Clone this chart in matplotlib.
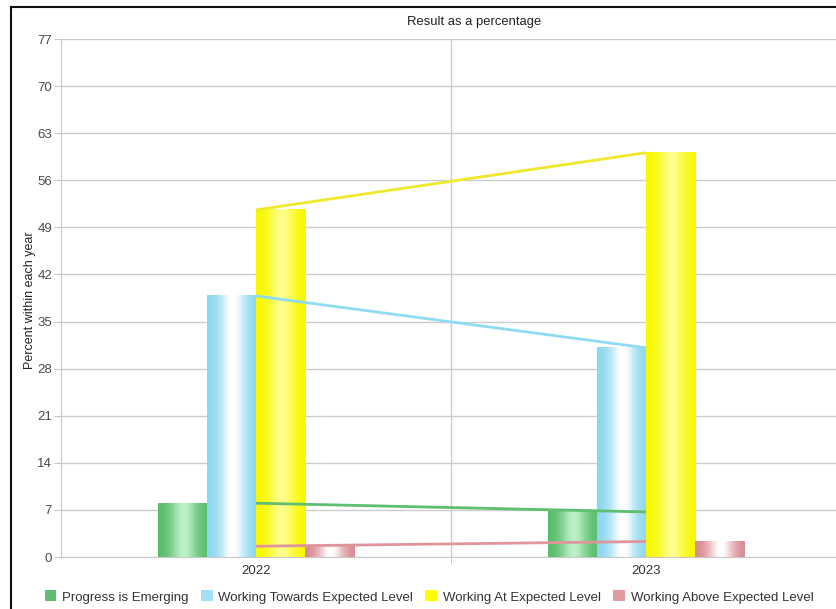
import numpy as np
import matplotlib
matplotlib.use("Agg")
import matplotlib.pyplot as plt
from matplotlib.patches import Patch
from matplotlib.lines import Line2D
from matplotlib.colors import to_rgb

plt.rcParams['font.family'] = ['Liberation Sans', 'DejaVu Sans']

years = ['2022', '2023']
series = ['Progress is Emerging', 'Working Towards Expected Level',
          'Working At Expected Level', 'Working Above Expected Level']
emerging = [8.0, 6.7]
towards = [38.8, 31.1]
at_level = [51.6, 60.1]
above = [1.6, 2.3]
values = [emerging, towards, at_level, above]

# edge shade, highlight shade, line colour
edge_cols = ['#58bc6b', '#8ad7ee', '#f8f800', '#d88a92']
high_cols = ['#bdf0c9', '#ffffff', '#ffff8c', '#ffffff']
line_cols = ['#5dbf6f', '#8fdcf2', '#eee92c', '#df959b']
legend_cols = ['#5dbd72', '#a3def2', '#ffff00', '#e09aa0']

W, H = 836, 609
fig = plt.figure(figsize=(W / 100, H / 100), dpi=100)
ax = fig.add_axes([61 / W, (H - 557) / H, 780 / W, 518 / H])

bw = 0.126
x = np.arange(len(years))
t = np.linspace(0, 1, 96)
shade = np.exp(-((t - 0.52) / 0.26) ** 2)

for i, vals in enumerate(values):
    e = np.array(to_rgb(edge_cols[i]))
    h = np.array(to_rgb(high_cols[i]))
    grad = (e[None, :] * (1 - shade[:, None]) + h[None, :] * shade[:, None])
    grad = np.repeat(grad[None, :, :], 2, axis=0)
    for j, v in enumerate(vals):
        x0 = x[j] + (i - 2) * bw
        ax.imshow(grad, extent=(x0, x0 + bw, 0, v), aspect='auto',
                  interpolation='nearest', zorder=2)

for i, vals in enumerate(values):
    ax.plot(x, vals, color=line_cols[i], lw=2.0, zorder=3,
            solid_capstyle='butt')

ax.set_xlim(-0.5, 1.5)
ax.set_ylim(0, 77)
ax.set_yticks(np.arange(0, 78, 7))
ax.set_xticks(x)
ax.set_xticklabels(years)
ax.set_xticks([0.5], minor=True)
ax.tick_params(axis='x', which='major', length=0, pad=6, labelsize=9.5, labelcolor='#333333')
ax.tick_params(axis='x', which='minor', length=5, color='#c8c8c8')
ax.tick_params(axis='y', length=5, color='#c8c8c8', labelsize=9.5, labelcolor='#4a4a4a', pad=1.5)
ax.set_axisbelow(True)
ax.grid(axis='y', color='#cccccc', lw=1)
ax.axvline(0.5, color='#cccccc', lw=1, zorder=0)
for s in ['top', 'right']:
    ax.spines[s].set_visible(False)
ax.spines['left'].set_color('#c8c8c8')
ax.spines['bottom'].set_color('#c8c8c8')

fig.text(474 / W, 1 - 22 / H, 'Result as a percentage', ha='center', va='center',
         fontsize=9.4, color='#222222')
fig.text(30 / W, 1 - 300 / H, 'Percent within each year', rotation=90,
         ha='center', va='center', fontsize=9, color='#222222')

handles = [Patch(facecolor=c, edgecolor='none') for c in legend_cols]
fig.legend(handles, series, loc='center', bbox_to_anchor=(429 / W, 1 - 597 / H),
           ncol=4, frameon=False, fontsize=9.5, handlelength=0.9, handleheight=0.9,
           handletextpad=0.45, columnspacing=0.9, labelcolor='#333333')

# outer frame
fig.add_artist(Line2D([11 / W, 11 / W], [0, 1 - 7 / H], color='#111111', lw=1.5))
fig.add_artist(Line2D([11 / W, 1], [1 - 7 / H, 1 - 7 / H], color='#111111', lw=1.5))

fig.savefig('out.png', dpi=100)
